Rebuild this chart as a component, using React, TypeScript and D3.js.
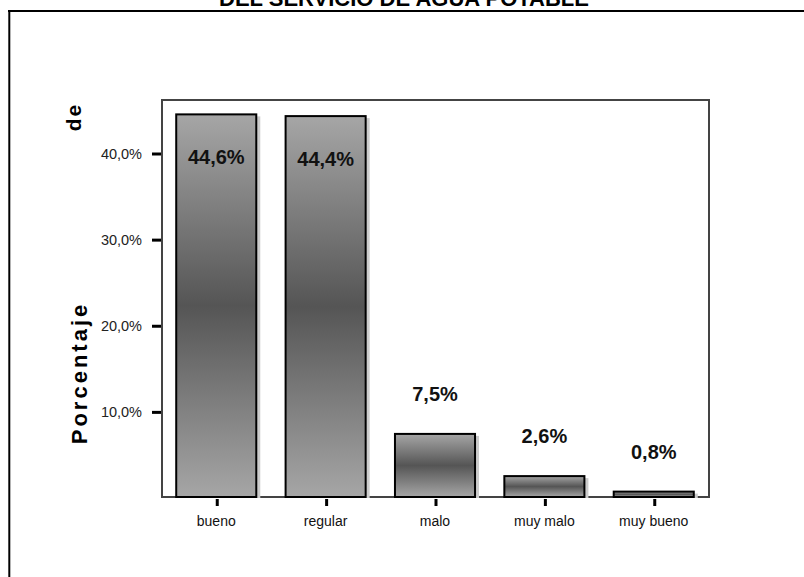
import React from "react";
import * as d3 from "d3";

const categories = ["bueno", "regular", "malo", "muy malo", "muy bueno"];
const values = [44.6, 44.4, 7.5, 2.6, 0.8];
const valueLabels = ["44,6%", "44,4%", "7,5%", "2,6%", "0,8%"];
const yTicks = [10, 20, 30, 40];
const yTickLabels = ["10,0%", "20,0%", "30,0%", "40,0%"];
const titleText = "DEL SERVICIO DE AGUA POTABLE";

const W = 804;
const H = 577;
const plot = { left: 162, right: 709, top: 100, bottom: 497 };

export default function App() {
  const x = d3
    .scaleBand<string>()
    .domain(categories)
    .range([162, 708])
    .paddingInner(0.268)
    .paddingOuter(0.13);
  const y = d3.scaleLinear().domain([0, 40]).range([498.5, 154]);
  const font = "Arial, 'Liberation Sans', sans-serif";
  return (
    <svg
      width={W}
      height={H}
      style={{ position: "absolute", left: 0, top: 0, background: "#fff" }}
      fontFamily={font}
    >
      <defs>
        <linearGradient id="barGrad" x1="0" y1="0" x2="0" y2="1">
          <stop offset="0" stopColor="#a6a6a6" />
          <stop offset="0.5" stopColor="#555555" />
          <stop offset="1" stopColor="#a6a6a6" />
        </linearGradient>
      </defs>
      <text
        x={404}
        y={6}
        textAnchor="middle"
        fontWeight="bold"
        fontSize={22}
        fill="#000"
      >
        {titleText}
      </text>
      <line x1={8} x2={W} y1={11} y2={11} stroke="#000" strokeWidth={2} />
      <line x1={9.3} x2={9.3} y1={10} y2={H} stroke="#000" strokeWidth={2} />
      <rect
        x={plot.left}
        y={plot.top}
        width={plot.right - plot.left}
        height={plot.bottom - plot.top}
        fill="none"
        stroke="#444"
        strokeWidth={2}
      />
      {yTicks.map((t, i) => (
        <g key={t}>
          <line x1={152} x2={161} y1={y(t)} y2={y(t)} stroke="#000" strokeWidth={3} />
          <text
            x={142}
            y={y(t)}
            dy="0.35em"
            textAnchor="end"
            fontSize={14.5}
            fill="#222"
          >
            {yTickLabels[i]}
          </text>
        </g>
      ))}
      <text
        transform="translate(87,373) rotate(-90)"
        textAnchor="middle"
        fontWeight="bold"
        fontSize={22}
        letterSpacing={3}
        fill="#000"
      >
        Porcentaje
      </text>
      <text
        transform="translate(81,117) rotate(-90)"
        textAnchor="middle"
        fontWeight="bold"
        fontSize={21}
        letterSpacing={2}
        fill="#000"
      >
        de
      </text>
      {categories.map((c, i) => {
        const bx = x(c)!;
        const bw = x.bandwidth();
        const top = y(values[i]);
        const h = plot.bottom - top;
        const cx = bx + bw / 2;
        const inside = values[i] > 20;
        return (
          <g key={c}>
            <rect x={bx + 4} y={top + 2} width={bw} height={h - 1} fill="#cccccc" />
            <rect
              x={bx}
              y={top}
              width={bw}
              height={h}
              fill="url(#barGrad)"
              stroke="#000"
              strokeWidth={2}
            />
            <line x1={cx + 1} x2={cx + 1} y1={499} y2={506} stroke="#000" strokeWidth={3} />
            <text x={cx} y={526} textAnchor="middle" fontSize={14} fill="#111">
              {c}
            </text>
            <text
              x={cx}
              y={inside ? top + 50 : top - 33}
              textAnchor="middle"
              fontWeight="bold"
              fontSize={20}
              fill="#111"
            >
              {valueLabels[i]}
            </text>
          </g>
        );
      })}
    </svg>
  );
}
